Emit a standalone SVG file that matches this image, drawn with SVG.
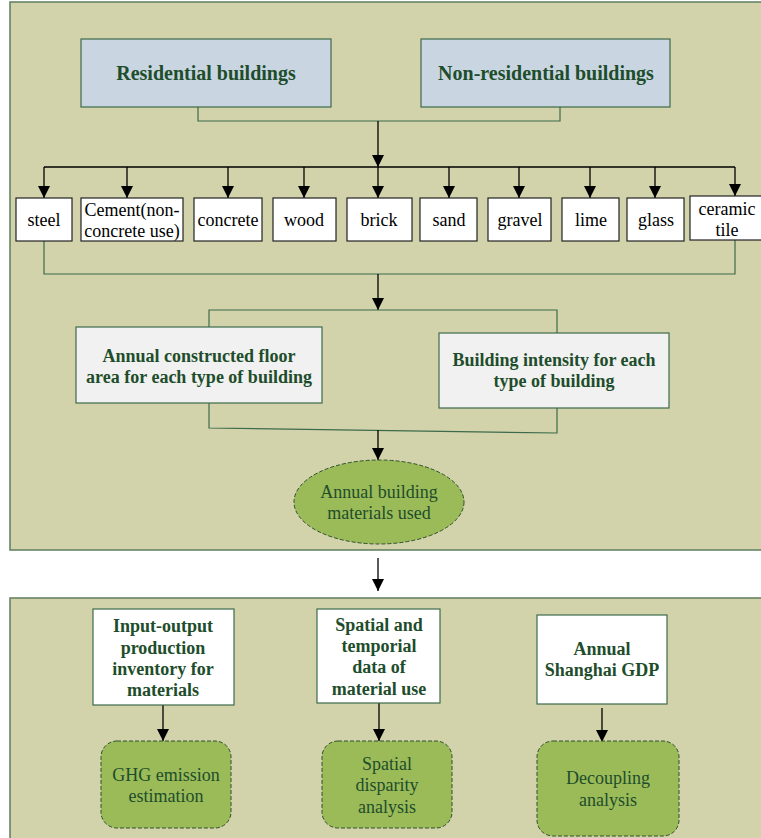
<svg xmlns="http://www.w3.org/2000/svg" width="761" height="838" viewBox="0 0 761 838">
<defs>
<style>
.panel{fill:#d3d3ab;stroke:#5d7d5d;stroke-width:1.5}
.blue{fill:#c9d6e2;stroke:#3d6a4a;stroke-width:1.2}
.grey{fill:#f1f1f1;stroke:#3d6a4a;stroke-width:1.2}
.white{fill:#ffffff;stroke:#222;stroke-width:1.2}
.wbox{fill:#ffffff;stroke:#3d6a4a;stroke-width:1.2}
.green{fill:#9bbb59;stroke:#2f4f2f;stroke-width:1;stroke-dasharray:4 2}
.ln{fill:none;stroke:#3d6a4a;stroke-width:1.2}
.arr{fill:none;stroke:#000;stroke-width:1.3}
.bt{font-family:"Liberation Serif","Times New Roman",serif;font-weight:bold;font-size:18px;fill:#1e4d2b;text-anchor:middle}
.hd{font-size:20px}
.mt{font-family:"Liberation Serif","Times New Roman",serif;font-size:18px;fill:#000;text-anchor:middle}
.gt{font-family:"Liberation Serif","Times New Roman",serif;font-size:18px;fill:#1e4d2b;text-anchor:middle}
</style>
<marker id="ah" viewBox="0 0 12 12" refX="12" refY="6" markerWidth="12" markerHeight="12" markerUnits="userSpaceOnUse" orient="auto">
<path d="M0,0 L12,6 L0,12 Z" fill="#000"/>
</marker>
</defs>

<rect class="panel" x="10" y="2" width="760" height="548"/>
<rect class="panel" x="10" y="598" width="760" height="250"/>

<g id="connectors">
<polyline class="ln" points="198,107 198,121 560,121 560,107"/>
<line class="arr" x1="378" y1="121" x2="378" y2="167" marker-end="url(#ah)"/>
<line class="arr" x1="44" y1="167" x2="735" y2="167"/>
<line class="arr" x1="44" y1="167" x2="44" y2="198" marker-end="url(#ah)"/>
<line class="arr" x1="127" y1="167" x2="127" y2="198" marker-end="url(#ah)"/>
<line class="arr" x1="228" y1="167" x2="228" y2="198" marker-end="url(#ah)"/>
<line class="arr" x1="304" y1="167" x2="304" y2="198" marker-end="url(#ah)"/>
<line class="arr" x1="378" y1="167" x2="378" y2="198" marker-end="url(#ah)"/>
<line class="arr" x1="449" y1="167" x2="449" y2="198" marker-end="url(#ah)"/>
<line class="arr" x1="519" y1="167" x2="519" y2="198" marker-end="url(#ah)"/>
<line class="arr" x1="590" y1="167" x2="590" y2="198" marker-end="url(#ah)"/>
<line class="arr" x1="655" y1="167" x2="655" y2="198" marker-end="url(#ah)"/>
<line class="arr" x1="735" y1="167" x2="735" y2="196" marker-end="url(#ah)"/>
<polyline class="ln" points="44,241 44,274 735,274 735,240"/>
<line class="arr" x1="378" y1="274" x2="378" y2="310" marker-end="url(#ah)"/>
<polyline class="ln" points="209,327 209,310 557,310 557,333"/>
<polyline class="ln" points="209,403 209,428 557,433 557,408"/>
<line class="arr" x1="378" y1="430" x2="378" y2="460" marker-end="url(#ah)"/>
<line class="arr" x1="378" y1="558" x2="378" y2="591" marker-end="url(#ah)"/>
<line class="arr" x1="163" y1="705" x2="163" y2="741" marker-end="url(#ah)"/>
<line class="arr" x1="379" y1="703" x2="379" y2="741" marker-end="url(#ah)"/>
<line class="arr" x1="602" y1="708" x2="602" y2="742" marker-end="url(#ah)"/>
</g>

<g id="residential">
<rect class="blue" x="81" y="39" width="250" height="68"/>
<text class="bt hd" x="206" y="80">Residential buildings</text>
</g>
<g id="nonresidential">
<rect class="blue" x="421" y="39" width="249" height="68"/>
<text class="bt hd" x="546" y="80">Non-residential buildings</text>
</g>

<g id="steel"><rect class="white" x="16" y="198" width="56" height="43"/><text class="mt" x="44" y="226">steel</text></g>
<g id="cement"><rect class="white" x="81" y="198" width="102" height="43"/><text class="mt" x="132" y="216">Cement(non-</text><text class="mt" x="132" y="237">concrete use)</text></g>
<g id="concrete"><rect class="white" x="194" y="198" width="68" height="43"/><text class="mt" x="228" y="226">concrete</text></g>
<g id="wood"><rect class="white" x="273" y="198" width="63" height="43"/><text class="mt" x="304" y="226">wood</text></g>
<g id="brick"><rect class="white" x="347" y="198" width="65" height="43"/><text class="mt" x="379" y="226">brick</text></g>
<g id="sand"><rect class="white" x="420" y="198" width="57" height="43"/><text class="mt" x="449" y="226">sand</text></g>
<g id="gravel"><rect class="white" x="488" y="198" width="63" height="43"/><text class="mt" x="520" y="226">gravel</text></g>
<g id="lime"><rect class="white" x="562" y="198" width="57" height="43"/><text class="mt" x="591" y="226">lime</text></g>
<g id="glass"><rect class="white" x="627" y="198" width="57" height="43"/><text class="mt" x="656" y="226">glass</text></g>
<g id="ceramic"><rect class="white" x="690" y="196" width="72" height="44"/><text class="mt" x="727" y="215">ceramic</text><text class="mt" x="727" y="236">tile</text></g>

<g id="floorarea">
<rect class="grey" x="76" y="327" width="246" height="76"/>
<text class="bt" x="199" y="362">Annual constructed floor</text>
<text class="bt" x="199" y="383">area for each type of building</text>
</g>
<g id="intensity">
<rect class="grey" x="439" y="333" width="230" height="75"/>
<text class="bt" x="554" y="366">Building intensity for each</text>
<text class="bt" x="554" y="387">type of building</text>
</g>

<g id="materialsused">
<ellipse class="green" cx="379" cy="502" rx="85" ry="42"/>
<text class="gt" x="379" y="498">Annual building</text>
<text class="gt" x="379" y="519">materials used</text>
</g>

<g id="inputoutput">
<rect class="wbox" x="93" y="609" width="141" height="96"/>
<text class="bt" x="163" y="632">Input-output</text>
<text class="bt" x="163" y="654">production</text>
<text class="bt" x="163" y="675">inventory for</text>
<text class="bt" x="163" y="696">materials</text>
</g>
<g id="spatialdata">
<rect class="wbox" x="317" y="609" width="123" height="94"/>
<text class="bt" x="379" y="631">Spatial and</text>
<text class="bt" x="379" y="652">temporial</text>
<text class="bt" x="379" y="673">data of</text>
<text class="bt" x="379" y="695">material use</text>
</g>
<g id="gdp">
<rect class="wbox" x="537" y="615" width="130" height="89"/>
<text class="bt" x="602" y="655">Annual</text>
<text class="bt" x="602" y="676">Shanghai GDP</text>
</g>

<g id="ghg">
<rect class="green" x="101" y="741" width="130" height="87" rx="16"/>
<text class="gt" x="166" y="781">GHG emission</text>
<text class="gt" x="166" y="802">estimation</text>
</g>
<g id="disparity">
<rect class="green" x="322" y="741" width="130" height="87" rx="16"/>
<text class="gt" x="387" y="770">Spatial</text>
<text class="gt" x="387" y="791">disparity</text>
<text class="gt" x="387" y="813">analysis</text>
</g>
<g id="decoupling">
<rect class="green" x="537" y="741" width="142" height="95" rx="16"/>
<text class="gt" x="608" y="784">Decoupling</text>
<text class="gt" x="608" y="806">analysis</text>
</g>
</svg>
